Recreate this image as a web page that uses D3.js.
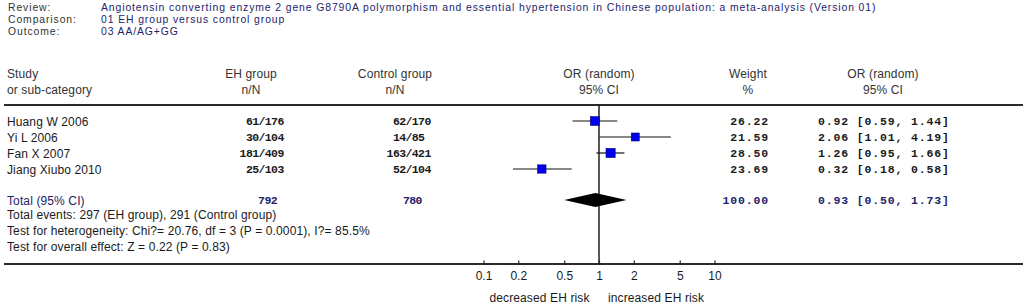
<!DOCTYPE html>
<html>
<head>
<meta charset="utf-8">
<script src="https://cdn.jsdelivr.net/npm/d3@7"></script>
<style>
  html, body { margin: 0; padding: 0; background: #ffffff; }
  svg { display: block; }
  .sans { font-family: Arial, "Liberation Sans", sans-serif; font-size: 12px; letter-spacing: 0.12px; }
  .head { font-family: Arial, "Liberation Sans", sans-serif; font-size: 10.4px; letter-spacing: 0.9px; }
  .mono { font-family: "Courier New", "Liberation Mono", monospace; font-size: 11.5px; font-weight: bold; }
</style>
</head>
<body>
<svg id="chart" width="1028" height="305"></svg>
<script>
// ---------- data ----------
const headerLabels = ["Review:", "Comparison:", "Outcome:"];
const headerValues = [
  "Angiotensin converting enzyme 2 gene G8790A  polymorphism and essential hypertension in Chinese population: a meta-analysis (Version 01)",
  "01 EH group versus control group",
  "03 AA/AG+GG"
];
const studies = ["Huang W 2006", "Yi L 2006", "Fan X 2007", "Jiang Xiubo 2010"];
const ehEvents = [61, 30, 181, 25];
const ehTotals = [176, 104, 409, 103];
const ctlEvents = [62, 14, 163, 52];
const ctlTotals = [170, 85, 421, 104];
const weights = [26.22, 21.59, 28.50, 23.69];
const orValues = [0.92, 2.06, 1.26, 0.32];
const ciLower = [0.59, 1.01, 0.95, 0.18];
const ciUpper = [1.44, 4.19, 1.66, 0.58];
const totalLabel = "Total (95% CI)";
const totalEH = 792;
const totalCtl = 780;
const totalWeight = 100.00;
const totalOR = 0.93;
const totalLower = 0.50;
const totalUpper = 1.73;
const footLines = [
  "Total events: 297 (EH group), 291 (Control group)",
  "Test for heterogeneity: Chi?= 20.76, df = 3 (P = 0.0001), I?= 85.5%",
  "Test for overall effect: Z = 0.22 (P = 0.83)"
];
const tickValues = [0.1, 0.2, 0.5, 1, 2, 5, 10];
const axisLabels = ["decreased EH risk", "increased EH risk"];

// ---------- layout ----------
const svg = d3.select("#chart");
const navy = "#23236b";
const ink = "#1a1a1a";
const label = "#333333";

const x = d3.scaleLog().domain([0.1, 10]).range([483.5, 714.5]);
const yRow = d3.scaleLinear().domain([0, studies.length - 1]).range([121, 169]);
const yTotal = 200;
const yAxis = 264;
const yTop = 105;
const monoW = 6.3;              // char pitch of n/N columns
const narrowSpacing = "-0.6px"; // 6.9 -> 6.3 px pitch
const wideSpacing = "0.85px";   // 6.9 -> 7.75 px pitch (weight / CI columns)

// header block
const hdr = svg.append("g").attr("class", "head");
hdr.selectAll("text.lab").data(headerLabels).join("text")
  .attr("x", 8).attr("y", (d, i) => 11 + i * 12)
  .attr("fill", label).text(d => d);
hdr.selectAll("text.val").data(headerValues).join("text")
  .attr("x", 101).attr("y", (d, i) => 11 + i * 12)
  .attr("fill", navy).text(d => d);

// column headers
const colHead = svg.append("g").attr("class", "sans").attr("fill", label);
colHead.append("text").attr("x", 7).attr("y", 78).text("Study");
colHead.append("text").attr("x", 7).attr("y", 94).text("or sub-category");
const centered = [
  [251, "EH group", "n/N"],
  [395, "Control group", "n/N"],
  [x(1), "OR (random)", "95% CI"],
  [748, "Weight", "%"],
  [883, "OR (random)", "95% CI"]
];
centered.forEach(([cx, a, b]) => {
  colHead.append("text").attr("x", cx).attr("y", 78).attr("text-anchor", "middle").text(a);
  colHead.append("text").attr("x", cx).attr("y", 94).attr("text-anchor", "middle").text(b);
});

// rules
svg.append("line").attr("x1", 4).attr("x2", 1023).attr("y1", yTop).attr("y2", yTop)
  .attr("stroke", "#2a2a2a").attr("stroke-width", 2);
svg.append("line").attr("x1", 4).attr("x2", 1023).attr("y1", yAxis).attr("y2", yAxis)
  .attr("stroke", "#2a2a2a").attr("stroke-width", 2);

// study rows text
const rows = svg.append("g");
const idx = d3.range(studies.length);
rows.selectAll("text.study").data(idx).join("text")
  .attr("class", "sans").attr("x", 7).attr("y", i => yRow(i) + 4.5)
  .attr("fill", ink).text(i => studies[i]);

// n/N aligned on slash
const ehSlash = 258.5, ctlSlash = 405.5;
function slashText(g, n, N, slashX, i) {
  g.append("text").attr("class", "mono")
    .attr("x", slashX - String(n).length * monoW).attr("y", yRow(i) + 4)
    .attr("fill", ink).style("letter-spacing", narrowSpacing).text(n + "/" + N);
}
idx.forEach(i => {
  slashText(rows, ehEvents[i], ehTotals[i], ehSlash, i);
  slashText(rows, ctlEvents[i], ctlTotals[i], ctlSlash, i);
});

// weight & CI columns
const fmt = d3.format(".2f");
rows.selectAll("text.w").data(idx).join("text")
  .attr("class", "mono").attr("x", 769).attr("y", i => yRow(i) + 4)
  .attr("text-anchor", "end").attr("fill", ink)
  .style("letter-spacing", wideSpacing).text(i => fmt(weights[i]));
rows.selectAll("text.ci").data(idx).join("text")
  .attr("class", "mono").attr("x", 818).attr("y", i => yRow(i) + 4)
  .attr("fill", ink).style("letter-spacing", wideSpacing)
  .text(i => `${fmt(orValues[i])} [${fmt(ciLower[i])}, ${fmt(ciUpper[i])}]`);

// total row
const tot = svg.append("g");
tot.append("text").attr("class", "sans").attr("x", 7).attr("y", yTotal + 4.5).attr("fill", navy).text(totalLabel);
tot.append("text").attr("class", "mono").attr("x", 277).attr("y", yTotal + 4)
  .attr("text-anchor", "end").attr("fill", navy).style("letter-spacing", narrowSpacing).text(totalEH);
tot.append("text").attr("class", "mono").attr("x", 403).attr("y", yTotal + 4)
  .attr("fill", navy).style("letter-spacing", narrowSpacing).text(totalCtl);
tot.append("text").attr("class", "mono").attr("x", 769).attr("y", yTotal + 4)
  .attr("text-anchor", "end").attr("fill", navy).style("letter-spacing", wideSpacing).text(fmt(totalWeight));
tot.append("text").attr("class", "mono").attr("x", 818).attr("y", yTotal + 4)
  .attr("fill", navy).style("letter-spacing", wideSpacing)
  .text(`${fmt(totalOR)} [${fmt(totalLower)}, ${fmt(totalUpper)}]`);

// footnotes
svg.append("g").attr("class", "sans").selectAll("text").data(footLines).join("text")
  .attr("x", 7).attr("y", (d, i) => 218.5 + i * 16).attr("fill", ink).text(d => d);

// vertical line of no effect
svg.append("line").attr("x1", x(1)).attr("x2", x(1)).attr("y1", yTop).attr("y2", yAxis)
  .attr("stroke", "#111").attr("stroke-width", 1.4);

// CI lines
const plot = svg.append("g");
plot.selectAll("line.ci").data(idx).join("line")
  .attr("x1", i => x(ciLower[i])).attr("x2", i => x(ciUpper[i]))
  .attr("y1", i => yRow(i)).attr("y2", i => yRow(i))
  .attr("stroke", "#111").attr("stroke-width", 1.2);

// squares sized by weight
const side = d3.scaleSqrt().domain([0, 30]).range([0, 9.4]);
plot.selectAll("rect.pt").data(idx).join("rect")
  .attr("x", i => x(orValues[i]) - side(weights[i]) / 2)
  .attr("y", i => yRow(i) - side(weights[i]) / 2)
  .attr("width", i => side(weights[i])).attr("height", i => side(weights[i]))
  .attr("fill", "#0000ee").attr("stroke", "#000070").attr("stroke-width", 0.6);

// diamond
const dh = 7;
plot.append("path")
  .attr("d", `M${x(totalLower)},${yTotal} L${x(totalOR)},${yTotal - dh} L${x(totalUpper)},${yTotal} L${x(totalOR)},${yTotal + dh} Z`)
  .attr("fill", "#000");

// axis
const axis = d3.axisBottom(x).tickValues(tickValues)
  .tickFormat(d3.format("~g")).tickSizeInner(-3).tickSizeOuter(0).tickPadding(7.5);
const ax = svg.append("g").attr("transform", `translate(0,${yAxis})`).call(axis);
ax.select(".domain").remove();
ax.selectAll(".tick line").attr("stroke", "#222").attr("stroke-width", 1.2).attr("y2", -3.5).attr("y1", 1);
ax.selectAll(".tick text").attr("font-family", "Arial, 'Liberation Sans', sans-serif")
  .attr("font-size", 12).attr("fill", ink);

svg.append("g").attr("class", "sans").selectAll("text").data(axisLabels).join("text")
  .attr("x", (d, i) => i === 0 ? 539.5 : 656)
  .attr("y", 301.5).attr("text-anchor", "middle").attr("fill", ink).text(d => d);
</script>
</body>
</html>
